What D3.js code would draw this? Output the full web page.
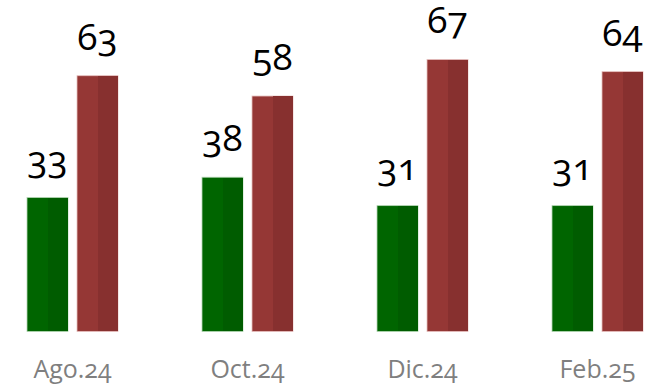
<!DOCTYPE html>
<html>
<head>
<meta charset="utf-8">
<script src="https://cdn.jsdelivr.net/npm/d3@7"></script>
<style>
  html, body { margin: 0; padding: 0; background: #ffffff; }
  svg { display: block; }
  .val, .cat { font-family: "Open Sans", "Noto Sans", sans-serif; font-feature-settings: "onum" 1; font-variant-numeric: oldstyle-nums; }
</style>
</head>
<body>
<svg id="chart" width="664" height="385"></svg>
<script>
// Survey periods and the two answer shares per period
const periods = ["Ago.24", "Oct.24", "Dic.24", "Feb.25"];
const seriesNames = ["Aprueba", "Desaprueba"];
const approve = [33, 38, 31, 31];
const disapprove = [63, 58, 67, 64];

// Each bar: a lighter body with a darker right half
const fillLight = ["#006500", "#953735"];
const fillDark = ["#005c00", "#87302f"];
const edge = ["#b4d6b4", "#e6c0bf"];

const width = 664, height = 385;
const baseline = 331.5;

const svg = d3.select("#chart");

const x0 = d3.scaleBand()
  .domain(periods)
  .range([27, 643])
  .paddingInner(0.48)
  .paddingOuter(0);

const x1 = d3.scaleBand()
  .domain(seriesNames)
  .range([0, x0.bandwidth()])
  .paddingInner(0.18)
  .paddingOuter(0);

const y = d3.scaleLinear()
  .domain([0, 67])
  .range([baseline, baseline - 67 * 4.06]);

const rows = periods.map((p, i) => ({
  period: p,
  values: [
    { key: seriesNames[0], idx: 0, value: approve[i] },
    { key: seriesNames[1], idx: 1, value: disapprove[i] }
  ]
}));

const groups = svg.selectAll("g.period")
  .data(rows)
  .join("g")
  .attr("class", "period")
  .attr("transform", d => `translate(${x0(d.period)},0)`);

const bars = groups.selectAll("g.bar")
  .data(d => d.values)
  .join("g")
  .attr("class", "bar");

const bw = x1.bandwidth();

bars.append("rect")
  .attr("x", d => x1(d.key))
  .attr("y", d => y(d.value))
  .attr("width", bw)
  .attr("height", d => baseline - y(d.value))
  .attr("fill", d => fillLight[d.idx])
  .attr("stroke", d => edge[d.idx])
  .attr("stroke-width", 0.8);

bars.append("rect")
  .attr("x", d => x1(d.key) + bw / 2)
  .attr("y", d => y(d.value) + 0.4)
  .attr("width", bw / 2 - 0.4)
  .attr("height", d => baseline - y(d.value) - 0.8)
  .attr("fill", d => fillDark[d.idx])
  .attr("shape-rendering", "crispEdges");

// Value labels above each bar
bars.append("text")
  .attr("class", "val")
  .attr("x", d => x1(d.key) + bw / 2)
  .attr("y", d => y(d.value) - 26)
  .attr("text-anchor", "middle")
  .attr("font-size", 37)
  .attr("fill", "#000000")
  .text(d => d.value);

// Period labels along the bottom
const xAxis = d3.axisBottom(x0).tickSize(0).tickPadding(0);
const axisG = svg.append("g")
  .attr("transform", "translate(0,0)")
  .call(xAxis);
axisG.select(".domain").remove();
axisG.selectAll("text")
  .attr("class", "cat")
  .attr("dy", null)
  .attr("y", 378)
  .attr("font-size", 25)
  .attr("fill", "#7f7f7f");
</script>
</body>
</html>
